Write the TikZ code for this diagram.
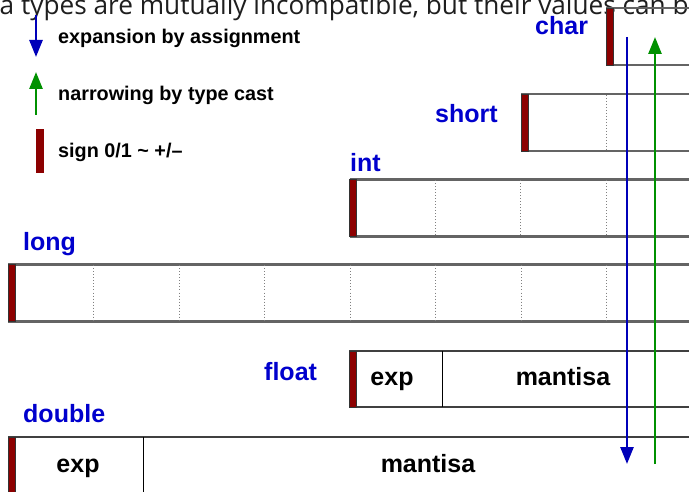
\documentclass[tikz,border=0pt]{standalone}
\usepackage{fontspec}
\setmainfont{Liberation Sans}
\newfontfamily\topfont{Open Sans}
\usetikzlibrary{arrows.meta}
\definecolor{lblue}{RGB}{0,0,205}
\definecolor{ablue}{RGB}{0,0,185}
\definecolor{agreen}{RGB}{0,145,0}
\definecolor{sred}{RGB}{140,0,0}
\definecolor{boxgray}{RGB}{100,100,100}
\definecolor{topgray}{RGB}{30,30,30}

\newcommand\byterow[4]{% left x, top y, dotted count, name
  \coordinate (#4) at (#1,#2);
  \draw[boxline] (#1,#2) -- (700,#2) (#1,#2+57) -- (700,#2+57);
  \ifnum#3>0
  \foreach \k in {1,...,#3} \draw[sepline] (#1+85.5*\k,#2+1) -- (#1+85.5*\k,#2+56);
  \fi
  \draw[signbar] (#1,#2) rectangle (#1+7,#2+57);
}

\begin{document}
\begin{tikzpicture}[x=1pt,y=-1pt,
  tname/.style={font=\fontsize{25}{25}\selectfont\bfseries, text=lblue, inner sep=0pt, anchor=base west},
  legtext/.style={font=\fontsize{19.8}{20}\selectfont\bfseries, text=black, inner sep=0pt, anchor=base west},
  fieldtext/.style={font=\fontsize{25}{25}\selectfont\bfseries, text=black, inner sep=0pt, anchor=base},
  boxline/.style={draw=boxgray, line width=2.2pt},
  fboxline/.style={draw=black!75, line width=1.5pt},
  divline/.style={draw=black, line width=1pt},
  sepline/.style={draw=gray, line width=1pt, dash pattern=on 1pt off 2pt},
  signbar/.style={fill=sred, draw=black!80, line width=0.6pt},
  bluearrow/.style={draw=ablue, line width=2.6pt, -{Triangle[length=17pt,width=13pt]}},
  greenarrow/.style={draw=agreen, line width=2.6pt, -{Triangle[length=17pt,width=13pt]}},
]
\useasboundingbox (0,0) rectangle (689,492);
\clip (0,0) rectangle (689,492);
\fill[white] (0,0) rectangle (689,492);

% clipped heading text
\node[font=\topfont\fontsize{26.2}{27}\selectfont, text=topgray, inner sep=0pt, anchor=base west] (heading) at (-0.5,15) {a types are mutually incompatible, but their values can be};

% legend
\coordinate (lbTop) at (36,15);
\coordinate (lbBot) at (36,57);
\draw[bluearrow] (lbTop) -- (lbBot);
\node[legtext] (legExp) at (58,44) {expansion by assignment};
\coordinate (lgBot) at (36,115);
\coordinate (lgTop) at (36,72);
\draw[greenarrow] (lgBot) -- (lgTop);
\node[legtext] (legNar) at (58,101) {narrowing by type cast};
\fill[sred] (36,129) rectangle (44,173);
\node[legtext] (legSign) at (58,158) {sign 0/1 \char`~\ +/--};

% integer types
\byterow{606}{8}{0}{charbox}
\byterow{521}{94}{1}{shortbox}
\byterow{349.5}{179.5}{3}{intbox}
\byterow{8}{264.5}{7}{longbox}

\node[tname] (lchar) at (535,35) {char};
\node[tname] (lshort) at (435,123) {short};
\node[tname] (lint) at (350,172) {int};
\node[tname] (llong) at (23,251) {long};

% float
\draw[fboxline] (349,351) -- (700,351) (349,407) -- (700,407);
\draw[divline] (442,351) -- (442,407);
\draw[signbar] (349,351) rectangle (356,407);
\node[fieldtext] (fexp) at (392,385) {exp};
\node[fieldtext] (fman) at (563,385) {mantisa};
\node[tname] (lfloat) at (264,380) {float};

% double
\draw[fboxline] (8,437) -- (700,437) (8,493) -- (700,493);
\draw[divline] (143,437) -- (143,493);
\draw[signbar] (8,437) rectangle (15,493);
\node[fieldtext] (dexp) at (78,472) {exp};
\node[fieldtext] (dman) at (428,472) {mantisa};
\node[tname] (ldouble) at (23,422) {double};

% conversion arrows
\coordinate (bTop) at (627,37);
\coordinate (bBot) at (627,464);
\draw[bluearrow] (bTop) -- (bBot);
\coordinate (gBot) at (655,464);
\coordinate (gTop) at (655,37);
\draw[greenarrow] (gBot) -- (gTop);
\end{tikzpicture}
\end{document}
